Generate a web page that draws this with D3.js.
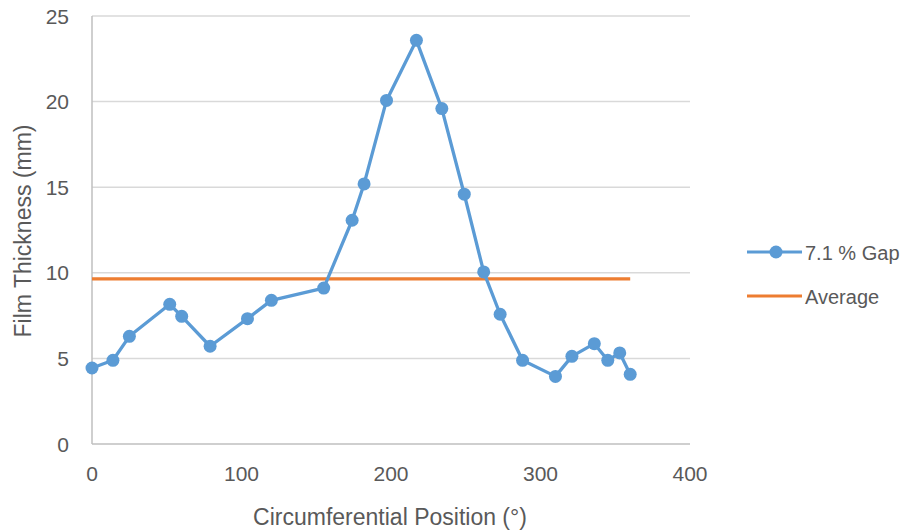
<!DOCTYPE html>
<html lang="en">
<head>
    <meta charset="UTF-8">
    <title>Film Thickness</title>
    <style>
        body { margin: 0; background: #fff; }
        text { font-family: "Liberation Sans", Arial, sans-serif; fill: #595959; }
    </style>
    <script src="https://d3js.org/d3.v7.min.js"></script>
</head>
<body>
    <script>
    // data
    const positions = [0, 14, 25, 52, 60, 79, 104, 120, 155, 174, 182, 197, 217, 234, 249, 262, 273, 288, 310, 321, 336, 345, 353, 360];
    const thickness = [4.44, 4.89, 6.29, 8.16, 7.46, 5.71, 7.32, 8.39, 9.11, 13.07, 15.19, 20.07, 23.58, 19.59, 14.59, 10.05, 7.58, 4.89, 3.95, 5.12, 5.86, 4.89, 5.32, 4.07];
    const averageValue = 9.64;
    const xTicks = [0, 100, 200, 300, 400];
    const yTicks = [0, 5, 10, 15, 20, 25];
    const seriesNames = ["7.1 % Gap", "Average"];

    const blue = "#5B9BD5", orange = "#ED7D31";

    var svg = d3.select("body").append("svg")
        .attr("width", 907)
        .attr("height", 531);

    // plot area (note: "top" clashes with window.top, so prefixed)
    const plotLeft = 92, plotRight = 690, plotTop = 16, plotBottom = 444;

    var x = d3.scaleLinear().domain([0, 400]).range([plotLeft, plotRight]);
    var y = d3.scaleLinear().domain([0, 25]).range([plotBottom, plotTop]);

    // gridlines
    svg.append("g")
        .selectAll("line")
        .data(yTicks.slice(1))
        .enter()
        .append("line")
        .attr("x1", plotLeft).attr("x2", plotRight)
        .attr("y1", d => y(d)).attr("y2", d => y(d))
        .attr("stroke", "#D9D9D9")
        .attr("stroke-width", 1.5);

    // axes lines
    svg.append("line")
        .attr("x1", plotLeft).attr("x2", plotRight)
        .attr("y1", y(0)).attr("y2", y(0))
        .attr("stroke", "#BFBFBF").attr("stroke-width", 1.5);
    svg.append("line")
        .attr("x1", plotLeft).attr("x2", plotLeft)
        .attr("y1", y(0)).attr("y2", y(25))
        .attr("stroke", "#BFBFBF").attr("stroke-width", 1.5);

    // tick labels
    svg.append("g")
        .selectAll("text")
        .data(yTicks)
        .enter()
        .append("text")
        .attr("x", 69)
        .attr("y", d => y(d) + 7.5)
        .attr("text-anchor", "end")
        .style("font-size", "21px")
        .text(d => d);

    svg.append("g")
        .selectAll("text")
        .data(xTicks)
        .enter()
        .append("text")
        .attr("x", d => x(d))
        .attr("y", 481)
        .attr("text-anchor", "middle")
        .style("font-size", "21px")
        .text(d => d);

    // axis titles
    svg.append("text")
        .attr("x", 390)
        .attr("y", 525)
        .attr("text-anchor", "middle")
        .style("font-size", "23px")
        .text("Circumferential Position (°)");

    svg.append("text")
        .attr("transform", "translate(31,231) rotate(-90)")
        .attr("text-anchor", "middle")
        .style("font-size", "23px")
        .text("Film Thickness (mm)");

    // average line
    svg.append("line")
        .attr("x1", x(positions[0]))
        .attr("x2", x(positions[positions.length - 1]))
        .attr("y1", y(averageValue)).attr("y2", y(averageValue))
        .attr("stroke", orange)
        .attr("stroke-width", 3.2);

    // series line + markers
    var points = positions.map((p, i) => [p, thickness[i]]);
    var line = d3.line().x(d => x(d[0])).y(d => y(d[1]));

    svg.append("path")
        .datum(points)
        .attr("d", line)
        .attr("fill", "none")
        .attr("stroke", blue)
        .attr("stroke-width", 3.3)
        .attr("stroke-linejoin", "round");

    svg.append("g")
        .selectAll("circle")
        .data(points)
        .enter()
        .append("circle")
        .attr("cx", d => x(d[0]))
        .attr("cy", d => y(d[1]))
        .attr("r", 6.5)
        .attr("fill", blue);

    // legend
    var legend = svg.append("g").attr("transform", "translate(747,252)");
    var items = legend.selectAll("g")
        .data(seriesNames)
        .enter()
        .append("g")
        .attr("transform", (d, i) => "translate(0," + (i * 44) + ")");

    items.append("line")
        .attr("x1", 0).attr("x2", 55)
        .attr("y1", 0).attr("y2", 0)
        .attr("stroke", (d, i) => i === 0 ? blue : orange)
        .attr("stroke-width", 3.2);

    items.filter((d, i) => i === 0)
        .append("circle")
        .attr("cx", 29).attr("cy", 0)
        .attr("r", 6.5)
        .attr("fill", blue);

    items.append("text")
        .attr("x", 58)
        .attr("y", 7.5)
        .style("font-size", "20px")
        .text(d => d);
    </script>
</body>
</html>
